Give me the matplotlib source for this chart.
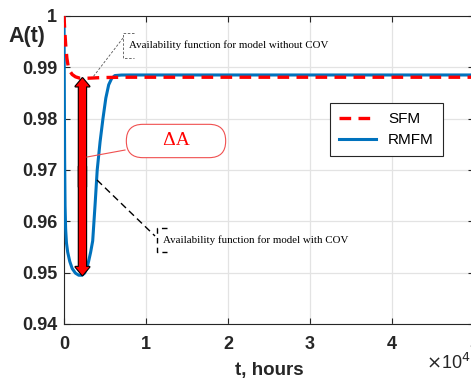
import matplotlib.pyplot as plt
import matplotlib.patches as mpatches
from matplotlib.ticker import FuncFormatter

# availability, simple model (SFM) and refined model (RMFM)
t_sfm = [0, 80, 200, 350, 500, 700, 1000, 1400, 1900, 2500, 3200, 4500, 7000, 50000]
a_sfm = [1.0, 0.9975, 0.9945, 0.9918, 0.9903, 0.9893, 0.9886, 0.98815, 0.9879,
         0.98785, 0.9879, 0.9880, 0.98807, 0.98807]

t_rmfm = [0, 40, 80, 130, 200, 300, 450, 700, 1000, 1400, 1800, 2200, 2500, 2750,
          3000, 3250, 3500, 3800, 4050, 4400, 4750, 5100, 5450, 5800, 6200, 7000,
          8000, 50000]
a_rmfm = [1.0, 0.985, 0.972, 0.963, 0.9585, 0.9558, 0.9540, 0.9522, 0.9508, 0.9499,
          0.9495, 0.9495, 0.9499, 0.9507, 0.9522, 0.9540, 0.9562, 0.9635, 0.9700,
          0.9755, 0.9800, 0.9840, 0.9866, 0.9878, 0.98840, 0.98850, 0.98851, 0.98851]

x_ticks = [0, 10000, 20000, 30000, 40000, 50000]
y_ticks = [0.94, 0.95, 0.96, 0.97, 0.98, 0.99, 1.0]
y_tick_labels = ['0.94', '0.95', '0.96', '0.97', '0.98', '0.99', '1']

# delta A arrow: from the RMFM dip up to the SFM level
t_delta = 2250
a_delta_low = 0.9495
a_delta_high = 0.9879

blue = '#0072BD'
red = '#FF0000'
dark = '#262626'
sans = 'Liberation Sans'
serif = 'Liberation Serif'

fig = plt.figure(figsize=(4.71, 3.81), dpi=100)
ax = fig.add_axes([0.13588, 0.14961, 0.87049, 0.80840])

ax.plot(t_rmfm, a_rmfm, color=blue, lw=2.2, label='RMFM', zorder=3)
ax.plot(t_sfm, a_sfm, color=red, lw=2.4, ls=(0, (3.5, 2.2)), label='SFM', zorder=4)

ax.set_xlim(0, 50000)
ax.set_ylim(0.94, 1.0)
ax.set_xticks(x_ticks)
ax.set_yticks(y_ticks)
ax.set_yticklabels(y_tick_labels)
ax.xaxis.set_major_formatter(FuncFormatter(lambda v, p: '%d' % round(v / 10000)))

ax.grid(True, color='#e3e3e3', lw=0.9)
ax.set_axisbelow(True)
ax.tick_params(direction='in', top=True, right=True, length=4, width=0.8,
               colors=dark, labelsize=13)
ax.tick_params(axis='x', pad=9)
ax.tick_params(axis='y', pad=5)
for lab in ax.get_xticklabels() + ax.get_yticklabels():
    lab.set_fontfamily(sans)
    lab.set_fontweight('bold')
for sp in ax.spines.values():
    sp.set_color(dark)
    sp.set_linewidth(0.8)

ax.set_xlabel('t, hours', fontsize=13.5, fontweight='bold', family=sans,
              color=dark, labelpad=6)
fig.text(0.057, 0.905, 'A(t)', fontsize=15.5, fontweight='bold', family=sans,
         color=dark, ha='center', va='center')
fig.text(0.998, 0.022, r'$\times$10$^4$', fontsize=13, family=sans, color=dark,
         ha='right', va='bottom')

# double headed delta A arrow: black outline first, red fill on top
a_mid = (a_delta_low + a_delta_high) / 2
style = mpatches.ArrowStyle.Simple(head_length=6, head_width=10, tail_width=5.2)
for ends in [(a_mid - 0.002, a_delta_high), (a_mid + 0.002, a_delta_low)]:
    for fc, ec, lw, z in [('black', 'black', 1.6, 5), (red, 'none', 0, 6)]:
        arr = mpatches.FancyArrowPatch((t_delta, ends[0]), (t_delta, ends[1]),
                                       arrowstyle=style, mutation_scale=1,
                                       shrinkA=0, shrinkB=0, fc=fc, ec=ec,
                                       lw=lw, zorder=z)
        ax.add_patch(arr)

# delta A callout
ax.plot([2805, 7439], [0.97253, 0.97389], color='#f05050', lw=0.8, zorder=6)
ax.text(13659, 0.97565, '      \u0394A      ', fontsize=14, family=serif, color=red,
        ha='center', va='center', zorder=7,
        bbox=dict(boxstyle='round,pad=0.42,rounding_size=0.85', fc='white',
                  ec='#f05050', lw=0.8))

# callout: model without COV
ax.plot([7195, 3537], [0.99571, 0.98812], color='#555555', lw=0.6, ls=(0, (3, 2)), zorder=6)
ax.plot([8537, 7195, 7195, 8537], [0.99669, 0.99669, 0.99182, 0.99182],
        color='#555555', lw=0.6, ls=(0, (3, 2)), zorder=6)
ax.text(7950, 0.99435, 'Availability function for model without COV', fontsize=7.8,
        family=serif, color='black', ha='left', va='center', zorder=7)

# callout: model with COV
ax.plot([4024, 11098], [0.96805, 0.95714], color='black', lw=1.0, ls=(0, (5, 3)), zorder=6)
ax.plot([12561, 11341, 11341, 12561], [0.9587, 0.9587, 0.9540, 0.9540],
        color='black', lw=1.0, ls=(0, (4, 3)), zorder=6)
ax.text(12073, 0.95636, 'Availability function for model with COV', fontsize=7.8,
        family=serif, color='black', ha='left', va='center', zorder=7)

handles, labels = ax.get_legend_handles_labels()
leg = ax.legend(handles[::-1], labels[::-1], loc='upper left',
                bbox_to_anchor=(0.649, 0.7175), fancybox=False, framealpha=1,
                edgecolor=dark, prop={'family': sans, 'size': 11},
                handlelength=2.4, borderpad=0.6, labelspacing=0.45,
                borderaxespad=0)
leg.get_frame().set_linewidth(0.8)

fig.savefig('out.png', dpi=100)
